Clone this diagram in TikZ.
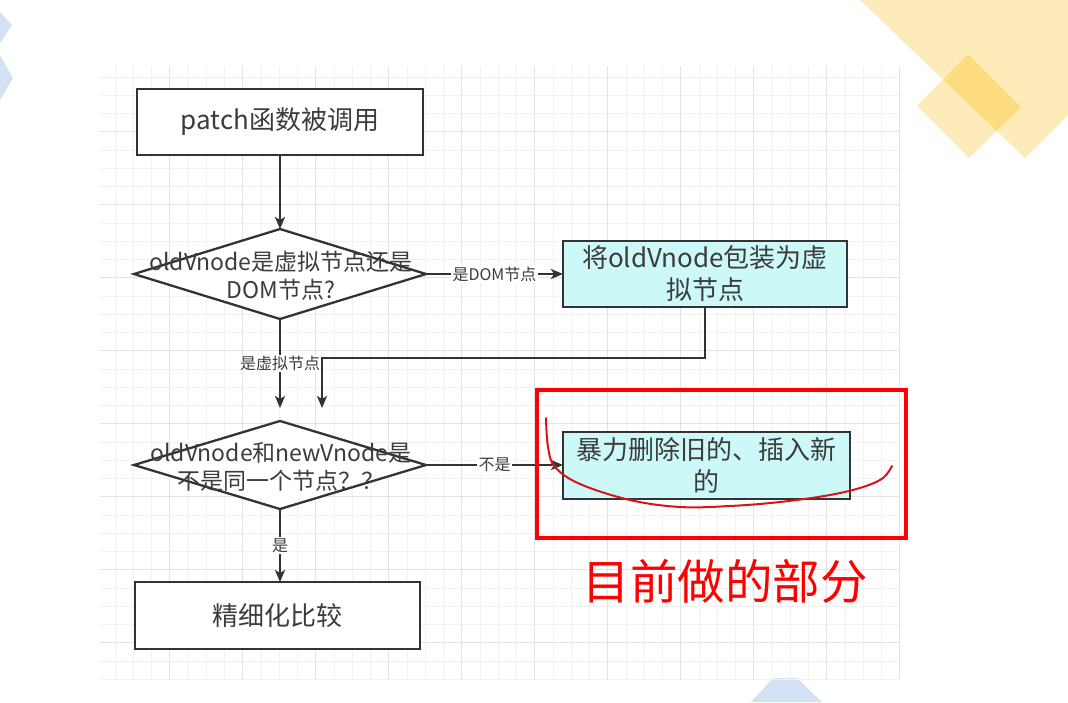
\documentclass[tikz,border=0pt]{standalone}
\usepackage{fontspec}
\setmainfont{Noto Sans CJK SC}
\usetikzlibrary{shapes.geometric,arrows.meta}
\definecolor{linecol}{HTML}{333333}
\definecolor{txtcol}{HTML}{3C3C3C}
\definecolor{cyanfill}{HTML}{CCF8F8}
\definecolor{gridminor}{HTML}{F1F1F1}
\definecolor{gridmajor}{HTML}{E3E3E3}
\definecolor{yellowlight}{HTML}{FDECBA}
\definecolor{yellowdeep}{HTML}{FDDC82}
\definecolor{bluedeco}{HTML}{D3E2F3}
\definecolor{markred}{HTML}{FF0000}
\definecolor{penred}{HTML}{D8141A}
\tikzset{
  x=1pt, y=-1pt,
  box/.style={draw=linecol, line width=2.3pt, fill=white, inner sep=0pt, outer sep=0pt,
    text=txtcol, font=\fontsize{26}{32}\selectfont, align=center},
  cyanbox/.style={box, fill=cyanfill},
  decision/.style={draw=linecol, line width=2.3pt, fill=white, shape=diamond, inner sep=0pt,
    outer sep=0pt, minimum width=292pt, minimum height=90pt},
  dectext/.style={text=txtcol, font=\fontsize{23}{28}\selectfont, align=center, inner sep=0pt},
  arr/.style={draw=linecol, line width=2.3pt, -{Stealth[length=12pt,width=10pt,inset=3pt]}},
  edgelabel/.style={fill=white, text=txtcol, font=\fontsize{16}{18}\selectfont, inner sep=1.5pt}
}
\begin{document}
\begin{tikzpicture}
% page
\fill[white] (0,0) rectangle (1068,702);
\useasboundingbox (0,0) rectangle (1068,702);

% corner decorations
\fill[yellowlight] (860,0) -- (1068,0) -- (1068,115) -- (1025,158) -- cycle;
\fill[yellowlight] (917,106) -- (968,54) -- (1021,107) -- (969,158) -- cycle;
\begin{scope}
  \clip (860,0) -- (1068,0) -- (1068,115) -- (1025,158) -- cycle;
  \fill[yellowdeep] (917,106) -- (968,54) -- (1021,107) -- (969,158) -- cycle;
\end{scope}
\fill[bluedeco] (0,12) -- (12,25) -- (0,43) -- cycle;
\fill[bluedeco] (0,55) -- (13,78) -- (0,100) -- cycle;
\fill[bluedeco] (751,702) -- (773,678) -- (797,678) -- (822,702) -- cycle;

% drawing grid
\begin{scope}
  \clip (100,66) rectangle (900,679);
  \foreach \i in {0,...,44} {
    \draw[gridminor, line width=0.8pt] ({96.7+18.25*\i},66) -- ++(0,613);
  }
  \foreach \i in {0,...,34} {
    \draw[gridminor, line width=0.8pt] (100,{58.7+18.25*\i}) -- ++(800,0);
  }
  \foreach \i in {0,...,11} {
    \draw[gridmajor, line width=1pt] ({96.7+73*\i},66) -- ++(0,613);
  }
  \foreach \i in {0,...,8} {
    \draw[gridmajor, line width=1pt] (100,{58.7+73*\i}) -- ++(800,0);
  }
\end{scope}

% flow chart
\node[box, minimum width=286pt, minimum height=66pt] (start) at (280,122) {patch函数被调用};
\node[decision] (d1) at (280,274) {};
\node[dectext] (d1t) at (281,276) {oldVnode是虚拟节点还是\\DOM节点?};
\node[cyanbox, minimum width=284pt, minimum height=66pt] (wrap) at (705,274) {将oldVnode包装为虚\\拟节点};
\node[decision, minimum height=88pt] (d2) at (280,465) {};
\node[dectext] (d2t) at (281,467) {oldVnode和newVnode是\\不是同一个节点？？};
\node[cyanbox, minimum width=287pt, minimum height=67pt] (replace) at (706.5,465.5) {暴力删除旧的、插入新\\的};
\node[box, minimum width=285pt, minimum height=67pt] (fine) at (277.5,615.5) {精细化比较};

\coordinate (in2a) at (280,408);
\coordinate (bend) at (322,358);
\coordinate (in2b) at (322,408);

\draw[arr] (start.south) -- (d1.north);
\draw[arr] (d1.east) -- node[edgelabel] {是DOM节点} (wrap.west);
\draw[arr] (d1.south) -- node[edgelabel] {是虚拟节点} (in2a);
\draw[arr] (wrap.south) |- (bend) -- (in2b);
\draw[arr] (d2.east) -- node[edgelabel] {不是} (d2.east -| replace.west);
\draw[arr] (d2.south) -- node[edgelabel] {是} (d2.south |- fine.north);

% red annotation
\draw[markred, line width=4pt] (537,390) rectangle (906,538);
\draw[penred, line width=2pt, line cap=round] plot[smooth, tension=0.6] coordinates {
  (546,418) (548,447) (555,467) (580,484) (630,500) (680,507) (730,506)
  (780,502) (830,495) (863,487) (883,478) (892,466)};
\node[text=markred, font=\fontsize{47.5}{52}\selectfont, inner sep=0pt] (note) at (725,581) {目前做的部分};
\end{tikzpicture}
\end{document}
